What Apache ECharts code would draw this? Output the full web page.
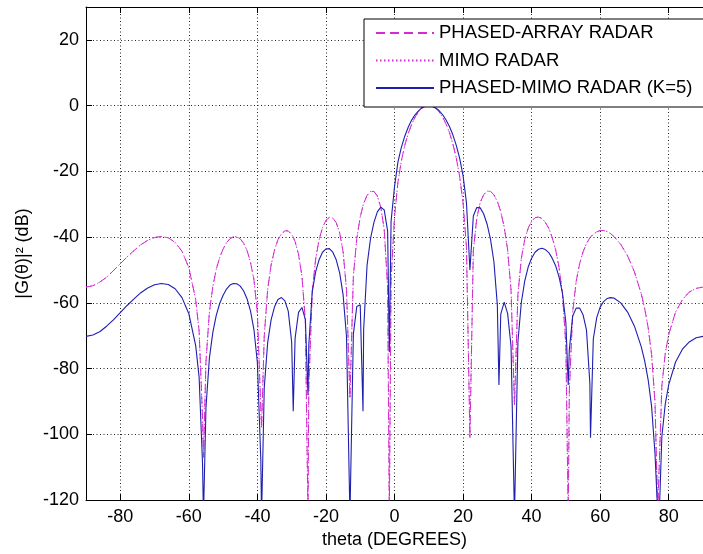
<!DOCTYPE html>
<html>
<head>
<meta charset="utf-8">
<script src="https://cdn.jsdelivr.net/npm/echarts@6/dist/echarts.min.js"></script>
<style>
  html, body { margin: 0; padding: 0; background: #ffffff; }
  #chart { width: 703px; height: 554px; }
</style>
</head>
<body>
<div id="chart"></div>
<script>
// Look angle (degrees). Extra samples sit on the pattern nulls.
const thetaDeg = [
  -90, -88, -86, -84, -82, -80, -78, -76, -74, -72, -70, -68, -66, -64, -62, -60, -58,
  -57, -56, -55.73, -55, -54, -53, -52, -51, -50, -49,
  -48, -47, -46, -45, -44, -43, -42, -41, -40, -39,
  -38.78, -38, -37, -36, -35, -34, -33, -32, -31, -30,
  -29.54, -29, -28, -27, -26, -25.24, -25, -24, -23, -22,
  -21, -20, -19, -18, -17, -16, -15, -14, -13, -12,
  -11, -10, -9.19, -9, -8, -7, -6, -5, -4, -3,
  -2, -1.51, -1, 0, 1, 2, 3, 4, 5, 6,
  7, 8, 9, 10, 11, 12, 13, 14, 15, 16,
  17, 18, 19, 20, 21, 22, 23, 24, 25, 26,
  27, 28, 29, 30, 30.47, 31, 32, 33, 34, 35,
  36, 37, 38, 39, 40, 41, 42, 43, 44, 45,
  46, 47, 48, 49, 50, 50.68, 51, 52, 53, 54,
  55, 56, 57, 57.18, 58, 59, 60, 61, 62, 63,
  64, 66, 68, 70, 72, 73, 74, 75, 76, 76.83,
  77, 78, 79, 80, 82, 84, 86, 88, 90
];

// Overall beampattern of the phased-array radar, dB.
const phasedArrayDb = [
  -55.2, -54.8, -53.7, -52.2, -50.2, -48.1, -46.0, -44.1, -42.3, -41.0, -40.1, -39.8, -40.2, -41.6, -44.3, -49.3, -59.0,
  -68.6, -95.0, -107, -77.9, -62.8, -55.0, -49.8, -46.2, -43.6, -41.7,
  -40.5, -39.9, -39.9, -40.5, -41.9, -44.1, -47.7, -53.0, -63.0, -92.3,
  -98, -70.1, -55.9, -48.5, -43.9, -40.8, -39.0, -38.1, -38.1, -39.2,
  -40.0, -41.4, -45.2, -51.9, -65.6, -125, -85.6, -56.6, -46.6, -40.8,
  -37.1, -34.9, -34.0, -34.2, -35.6, -38.7, -44.4, -56.0, -89, -51.9,
  -40.4, -33.9, -30.5, -29.8, -27.3, -26.1, -26.1, -27.5, -30.9, -37.7,
  -55.2, -125, -53.1, -33.8, -23.3, -16.8, -12.1, -8.5, -5.7, -3.5,
  -1.9, -0.8, -0.2, 0, -0.2, -0.8, -1.9, -3.4, -5.5, -8.1,
  -11.5, -15.8, -21.5, -29.6, -43.2, -101, -44.0, -34.3, -29.5, -27.1,
  -26.0, -26.1, -27.1, -29.2, -30.5, -32.3, -36.9, -43.9, -56.1, -91,
  -57.6, -46.5, -40.7, -37.3, -35.2, -34.1, -33.9, -34.3, -35.5, -37.3,
  -40.1, -43.8, -49.2, -57.2, -73.1, -125, -86.8, -62.6, -53.5, -48.1,
  -44.5, -42.0, -40.2, -40.0, -39.1, -38.4, -38.0, -38.0, -38.3, -38.9,
  -39.8, -42.2, -45.7, -50.6, -57.3, -61.8, -67.5, -75.7, -90.3, -125,
  -116.9, -85.2, -75.3, -69.6, -62.8, -59.0, -56.7, -55.6, -55.2
];

// The MIMO radar pattern lies on top of the phased-array one.
const mimoRadarDb = phasedArrayDb.slice();

// Phased-MIMO radar with K = 5 subarrays, dB.
const phasedMimoDb = [
  -70.2, -69.8, -68.8, -67.1, -65.2, -63.0, -60.8, -58.8, -56.9, -55.5, -54.5, -54.1, -54.4, -55.7, -58.4, -63.3, -73.0,
  -82.6, -109.0, -125, -91.8, -76.8, -69.0, -63.8, -60.2, -57.7, -55.8,
  -54.6, -54.1, -54.2, -54.9, -56.4, -58.8, -62.5, -68.2, -78.2, -107.9,
  -125, -85.9, -72.1, -65.2, -61.2, -59.0, -58.4, -59.3, -62.5, -71.9,
  -93, -70.8, -62.9, -61.4, -65.1, -88, -72.8, -56.7, -50.5, -46.9,
  -44.6, -43.6, -43.5, -44.6, -46.9, -50.9, -57.5, -70.3, -125, -69.5,
  -61.1, -60.6, -93, -68.2, -48.5, -40.5, -35.5, -32.3, -30.9, -31.7,
  -38.2, -75, -35.2, -24.7, -17.2, -12.7, -9.3, -6.6, -4.4, -2.8,
  -1.6, -0.6, -0.2, 0, -0.2, -0.7, -1.5, -2.7, -4.3, -6.3,
  -8.8, -12.0, -16.0, -21.3, -29.6, -50, -33.6, -31.0, -31.1, -32.9,
  -36.0, -40.6, -47.5, -60.6, -85, -63.4, -59.8, -63.2, -73.2, -125,
  -71.9, -59.9, -53.3, -49.1, -46.4, -44.6, -43.7, -43.4, -43.8, -44.7,
  -46.4, -48.7, -52.1, -57.0, -66.1, -85, -74.3, -64.0, -61.6, -61.6,
  -63.6, -68.2, -84.6, -101, -71.0, -64.5, -61.3, -59.6, -58.7, -58.4,
  -58.5, -60.0, -62.8, -67.1, -73.4, -77.7, -83.4, -91.5, -105.9, -125,
  -132, -100.6, -90.7, -84.9, -78.0, -74.1, -71.9, -70.6, -70.2
];

const seriesNames = ['PHASED-ARRAY RADAR', 'MIMO RADAR', 'PHASED-MIMO RADAR (K=5)'];

const FONT = '"Liberation Sans", Arial, Helvetica, sans-serif';
const MAGENTA = '#d22cd0';
const BLUE = '#1e1eb0';

function pairs(values) {
  return thetaDeg.map((t, i) => [t, values[i]]);
}

const chart = echarts.init(document.getElementById('chart'), null, { renderer: 'canvas' });

const frameLine = { show: true, onZero: false, lineStyle: { color: '#000', width: 1 } };
const innerTicks = { show: true, inside: true, length: 6, lineStyle: { color: '#000', width: 1 } };
const gridDots = { show: true, lineStyle: { color: '#000', width: 1, type: [1, 2.5], opacity: 0.85 } };

chart.setOption({
  animation: false,
  backgroundColor: '#ffffff',
  grid: { left: 86, top: 7, width: 624, height: 494, containLabel: false },
  // Legend frame: runs past the right edge of the figure along with the axes box.
  graphic: [
    {
      type: 'rect',
      left: 363.5,
      top: 18.5,
      z: 50,
      silent: true,
      shape: { width: 400, height: 88 },
      style: { fill: '#ffffff', stroke: '#000000', lineWidth: 1 }
    }
  ],
  legend: {
    orient: 'vertical',
    left: 363,
    top: 18,
    padding: [5, 20, 8, 12],
    itemGap: 7.5,
    itemWidth: 58,
    itemHeight: 14,
    z: 60,
    selectedMode: false,
    itemStyle: { opacity: 0 },
    textStyle: { color: '#000', fontSize: 18.5, fontFamily: FONT, lineHeight: 20 },
    data: seriesNames
  },
  xAxis: [
    {
      type: 'value',
      position: 'bottom',
      min: -90,
      max: 90,
      splitNumber: 9,
      name: 'theta (DEGREES)',
      nameLocation: 'middle',
      nameGap: 30,
      nameTextStyle: { color: '#000', fontSize: 18, fontFamily: FONT },
      axisLine: frameLine,
      axisTick: innerTicks,
      axisLabel: { color: '#000', fontSize: 18, fontFamily: FONT, margin: 8, showMinLabel: false, showMaxLabel: false },
      splitLine: gridDots
    },
    {
      type: 'value',
      position: 'top',
      min: -90,
      max: 90,
      splitNumber: 9,
      axisLine: frameLine,
      axisTick: innerTicks,
      axisLabel: { show: false },
      splitLine: { show: false }
    }
  ],
  yAxis: {
    type: 'value',
    min: -120,
    max: 30,
    interval: 20,
    name: '|G(θ)|² (dB)',
    nameLocation: 'middle',
    nameGap: 52,
    nameRotate: 90,
    nameTextStyle: { color: '#000', fontSize: 18, fontFamily: FONT },
    axisLine: frameLine,
    axisTick: innerTicks,
    axisLabel: { color: '#000', fontSize: 18, fontFamily: FONT, margin: 7, showMaxLabel: false },
    splitLine: gridDots
  },
  series: [
    {
      name: seriesNames[0],
      type: 'line',
      data: pairs(phasedArrayDb),
      symbol: 'none',
      clip: true,
      silent: true,
      z: 2,
      itemStyle: { color: MAGENTA },
      lineStyle: { color: MAGENTA, width: 1, type: [9, 5] }
    },
    {
      name: seriesNames[1],
      type: 'line',
      data: pairs(mimoRadarDb),
      symbol: 'none',
      clip: true,
      silent: true,
      z: 2,
      itemStyle: { color: MAGENTA },
      lineStyle: { color: MAGENTA, width: 1, type: [1.5, 2.5] }
    },
    {
      name: seriesNames[2],
      type: 'line',
      data: pairs(phasedMimoDb),
      symbol: 'none',
      clip: true,
      silent: true,
      z: 3,
      itemStyle: { color: BLUE },
      lineStyle: { color: BLUE, width: 1.1, type: 'solid' }
    }
  ]
});
</script>
</body>
</html>
